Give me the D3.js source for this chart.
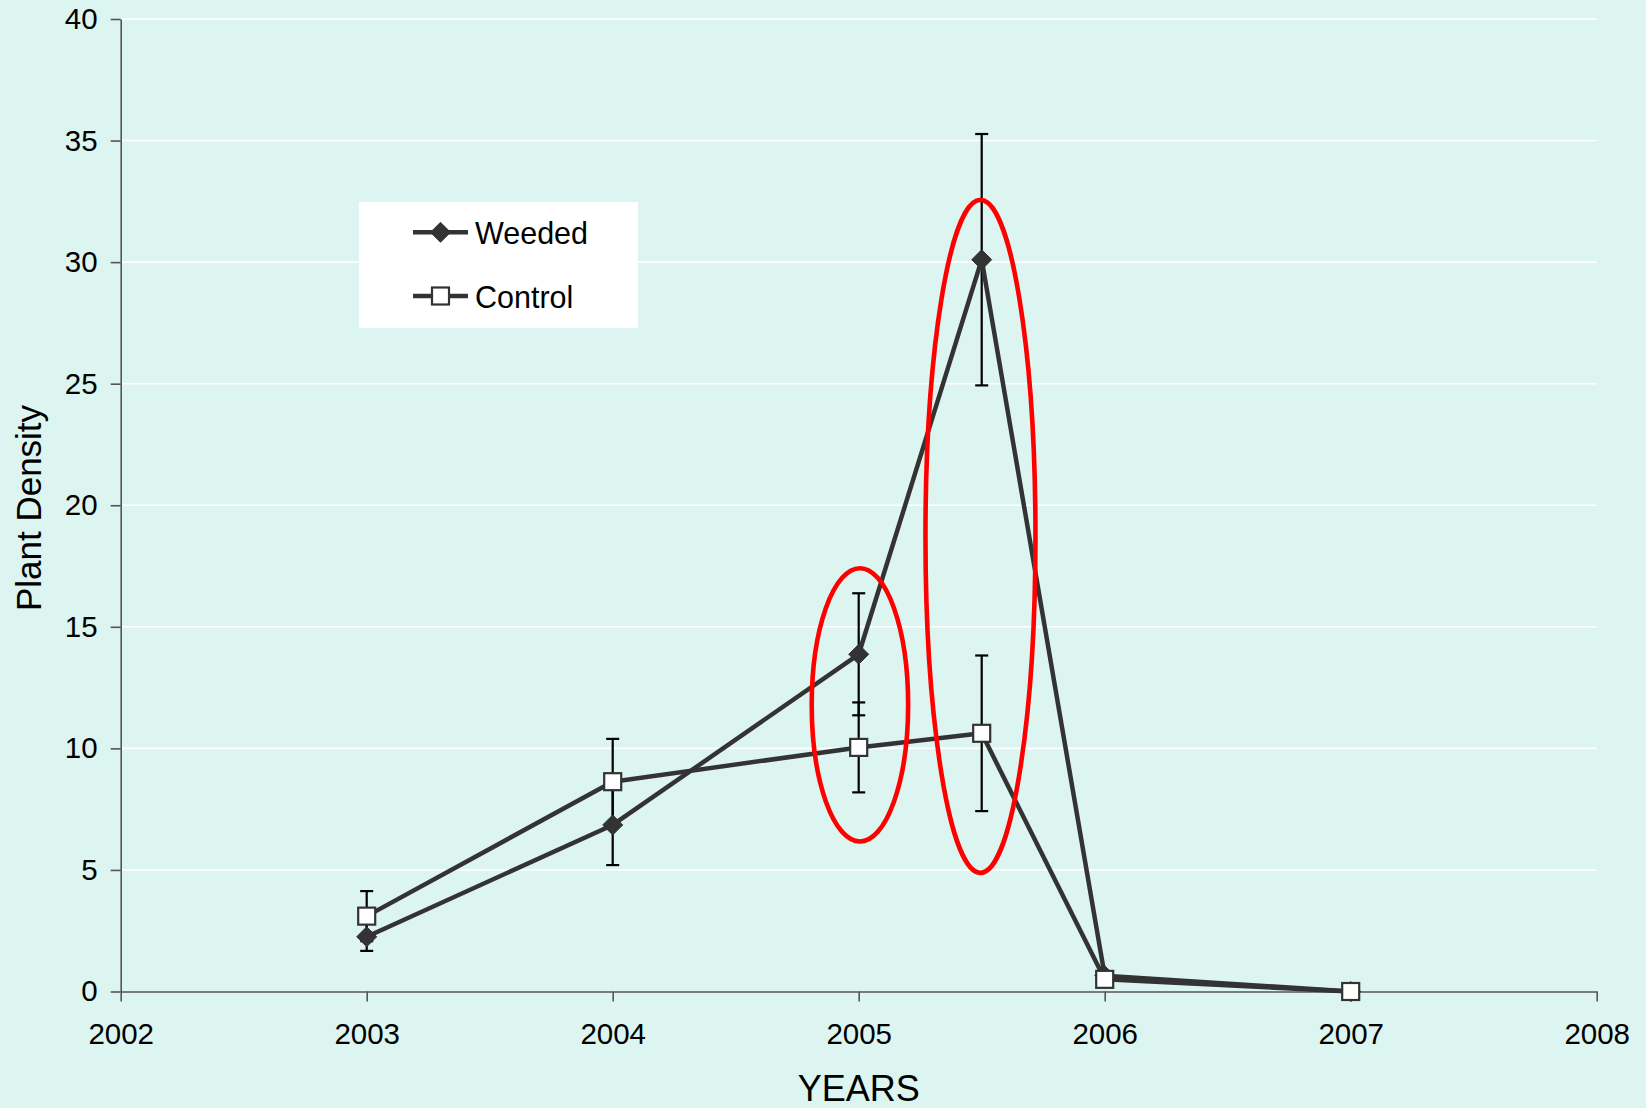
<!DOCTYPE html>
<html>
<head>
<meta charset="utf-8">
<script src="https://cdn.jsdelivr.net/npm/d3@7"></script>
<style>
  html, body { margin: 0; padding: 0; background: #DCF5F0; }
  svg { display: block; }
  text { font-family: "Liberation Sans", Arial, sans-serif; fill: #000; }
</style>
</head>
<body>
<svg id="chart" width="1646" height="1108"></svg>
<script>
// Survey years (2005.5 = second 2005 census)
const years = [2003, 2004, 2005, 2005.5, 2006, 2007];

// Mean plant density per plot
const weeded = [2.25, 6.85, 13.87, 30.1, 0.65, 0];
const control = [3.1, 8.63, 10.04, 10.62, 0.5, 0];

// Standard errors
const weededErr = [0.58, 1.65, 2.51, 5.17, 0, 0];
const controlErr = [1.03, 1.76, 1.85, 3.2, 0, 0];

// Axis ticks
const xTicks = [2002, 2003, 2004, 2005, 2006, 2007, 2008];
const yTicks = [0, 5, 10, 15, 20, 25, 30, 35, 40];

// Highlighted comparisons: centre year/value with half-widths in data units
const highlightYear = [2005.005, 2005.495];
const highlightValue = [11.79, 18.72];
const highlightYearRadius = [0.196, 0.2236];
const highlightValueRadius = [5.62, 13.84];

const svg = d3.select("#chart");

const x = d3.scaleLinear().domain([2002, 2008]).range([120.7, 1596.7]);
const y = d3.scaleLinear().domain([0, 40]).range([991.5, 19]);

// Horizontal gridlines
svg.append("g")
  .selectAll("line")
  .data(yTicks.filter(d => d > 0))
  .join("line")
  .attr("x1", x(2002)).attr("x2", x(2008))
  .attr("y1", d => y(d)).attr("y2", d => y(d))
  .attr("stroke", "#fff").attr("stroke-width", 1.6);

// Axes
const yAxis = svg.append("g")
  .attr("transform", `translate(${x(2002)},0)`)
  .call(d3.axisLeft(y).tickValues(yTicks).tickSize(10).tickPadding(13).tickSizeOuter(0));
const xAxis = svg.append("g")
  .attr("transform", `translate(0,${y(0)})`)
  .call(d3.axisBottom(x).tickValues(xTicks).tickFormat(d3.format("d")).tickSize(10).tickPadding(22).tickSizeOuter(0));

[yAxis, xAxis].forEach(g => {
  g.select(".domain").attr("stroke", "#555").attr("stroke-width", 1.6);
  g.selectAll(".tick line").attr("stroke", "#555").attr("stroke-width", 1.6);
  g.selectAll(".tick text")
    .style("font-family", '"Liberation Sans", Arial, sans-serif')
    .style("font-size", "29.5px")
    .attr("fill", "#000");
});

// Axis titles
svg.append("text")
  .attr("x", x(2005)).attr("y", 1101)
  .attr("text-anchor", "middle")
  .style("font-size", "36px")
  .text("YEARS");
svg.append("text")
  .attr("transform", `translate(41,508) rotate(-90)`)
  .attr("text-anchor", "middle")
  .style("font-size", "35px")
  .text("Plant Density");

const series = [
  { name: "Weeded", values: weeded, err: weededErr, marker: "diamond" },
  { name: "Control", values: control, err: controlErr, marker: "square" }
];

const line = d3.line().x(d => x(d[0])).y(d => y(d[1]));

// Error bars
series.forEach(s => {
  const g = svg.append("g").attr("stroke", "#000").attr("stroke-width", 2.2);
  years.forEach((yr, i) => {
    const e = s.err[i];
    if (!e) return;
    const cx = x(yr), top = y(s.values[i] + e), bot = y(s.values[i] - e);
    g.append("line").attr("x1", cx).attr("x2", cx).attr("y1", top).attr("y2", bot);
    g.append("line").attr("x1", cx - 6.5).attr("x2", cx + 6.5).attr("y1", top).attr("y2", top);
    g.append("line").attr("x1", cx - 6.5).attr("x2", cx + 6.5).attr("y1", bot).attr("y2", bot);
  });
});

function drawMarker(g, type, cx, cy) {
  if (type === "diamond") {
    const r = 10;
    g.append("path")
      .attr("d", `M${cx},${cy - r}L${cx + r},${cy}L${cx},${cy + r}L${cx - r},${cy}Z`)
      .attr("fill", "#333").attr("stroke", "#333").attr("stroke-width", 1);
  } else {
    const h = 8.5;
    g.append("rect")
      .attr("x", cx - h).attr("y", cy - h).attr("width", 2 * h).attr("height", 2 * h)
      .attr("fill", "#fff").attr("stroke", "#333").attr("stroke-width", 2.2);
  }
}

// Series lines and markers
series.forEach(s => {
  const pts = years.map((yr, i) => [yr, s.values[i]]);
  svg.append("path")
    .datum(pts)
    .attr("d", line)
    .attr("fill", "none")
    .attr("stroke", "#333")
    .attr("stroke-width", 4.5)
    .attr("stroke-linejoin", "round");
  const g = svg.append("g");
  pts.forEach(p => drawMarker(g, s.marker, x(p[0]), y(p[1])));
});

// Red highlight ellipses
svg.append("g")
  .selectAll("ellipse")
  .data(highlightYear.map((yr, i) => i))
  .join("ellipse")
  .attr("cx", i => x(highlightYear[i]))
  .attr("cy", i => y(highlightValue[i]))
  .attr("rx", i => x(highlightYear[i] + highlightYearRadius[i]) - x(highlightYear[i]))
  .attr("ry", i => y(highlightValue[i] - highlightValueRadius[i]) - y(highlightValue[i]))
  .attr("fill", "none")
  .attr("stroke", "#FF0000")
  .attr("stroke-width", 4.6);

// Legend
const legend = svg.append("g");
legend.append("rect")
  .attr("x", 359).attr("y", 202).attr("width", 279).attr("height", 126)
  .attr("fill", "#fff");
series.forEach((s, i) => {
  const ly = 232.3 + i * 63.7;
  legend.append("line")
    .attr("x1", 413).attr("x2", 468).attr("y1", ly).attr("y2", ly)
    .attr("stroke", "#333").attr("stroke-width", 4.5);
  drawMarker(legend, s.marker, 440.5, ly);
  legend.append("text")
    .attr("x", 475).attr("y", ly + 12)
    .style("font-size", "30.5px")
    .text(s.name);
});
</script>
</body>
</html>
